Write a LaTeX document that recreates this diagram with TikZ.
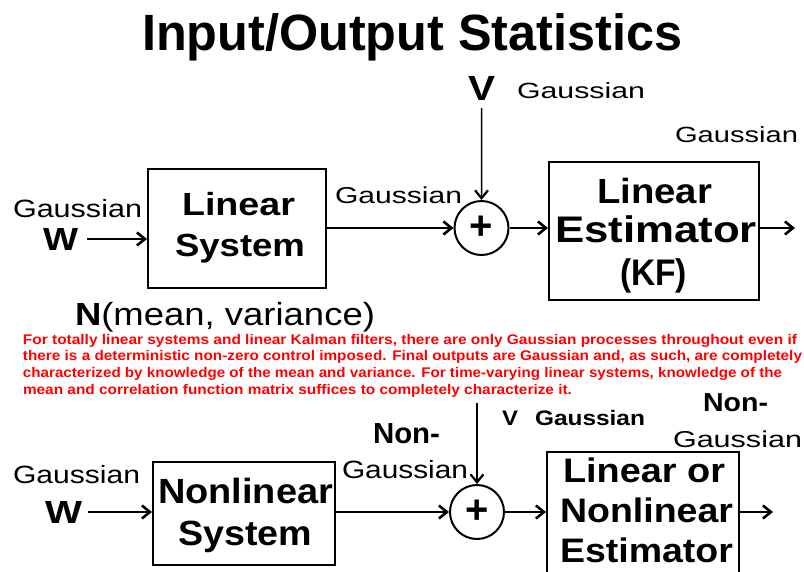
\documentclass[tikz,border=0pt]{standalone}
\usepackage{fontspec}
\setmainfont{Liberation Sans}
\usepackage{graphicx}
\usetikzlibrary{arrows.meta}
\definecolor{redtxt}{RGB}{255,0,0}
\newcommand\fsz[1]{\fontsize{#1}{#1}\selectfont}
\newcommand\fitw[2]{\resizebox{#1pt}{\height}{#2}}
\begin{document}
\begin{tikzpicture}[x=1pt,y=-1pt,
  txt/.style={anchor=base west, inner sep=0pt, outer sep=0pt},
  redline/.style={txt, text=redtxt},
  blockbox/.style={draw=black, line width=2pt, inner sep=0pt},
  sumnode/.style={draw=black, circle, line width=2pt, inner sep=0pt, minimum size=54pt},
  arr/.style={line width=2pt, -{Straight Barb[length=8pt,width=13pt,line width=2.6pt]}},
  thinarr/.style={line width=1.5pt, -{Straight Barb[length=8pt,width=13pt,line width=2.2pt]}}]
\clip (0,0) rectangle (804,571);
\fill[white] (0,0) rectangle (804,571);

% title
\node[txt] (title) at (142,50) {\fitw{540}{\fsz{51}\bfseries Input/Output Statistics}};

% ---------- top row ----------
\node[blockbox, minimum width=178pt, minimum height=119pt] (box1) at (237,228.5) {};
\node[blockbox, minimum width=210pt, minimum height=138pt] (box2) at (654,231) {};
\node[sumnode] (sum1) at (481.5,228) {\fsz{40}\bfseries +};

\node[txt] (gl1) at (13,217) {\fitw{129}{\fsz{25}Gaussian}};
\node[txt] (W1) at (43,250) {\fitw{35}{\fsz{32}\bfseries W}};
\node[txt] (b1a) at (182,215) {\fitw{113}{\fsz{32}\bfseries Linear}};
\node[txt] (b1b) at (175,256) {\fitw{130}{\fsz{32}\bfseries System}};
\node[txt] (gm1) at (335,203) {\fitw{127}{\fsz{23}Gaussian}};
\node[txt] (V1) at (468,100) {\fitw{27}{\fsz{35}\bfseries V}};
\node[txt] (gv1) at (517,98) {\fitw{128}{\fsz{22}Gaussian}};
\node[txt] (b2a) at (597,203) {\fitw{115}{\fsz{35}\bfseries Linear}};
\node[txt] (b2b) at (555,242) {\fitw{202}{\fsz{37}\bfseries Estimator}};
\node[txt] (b2c) at (620,285) {\fitw{67}{\fsz{37}\bfseries (KF)}};
\node[txt] (gr1) at (675,142) {\fitw{123}{\fsz{22}Gaussian}};
\node[txt] (nmv) at (75,325) {\fitw{300}{\fsz{32}\textbf{N}(mean, variance)}};

\coordinate (o1) at (795,228);
\draw[arr] (W1.east) ++(9,0) -- (W1.east -| box1.west);
\draw[arr] (sum1.west -| box1.east) -- (sum1.west);
\draw[thinarr] (V1.south) ++(0,8) -- (sum1.north);
\draw[arr] (sum1.east) -- (sum1.east -| box2.west);
\draw[arr] (o1 -| box2.east) -- (o1);

% ---------- red explanation ----------
\node[redline] (r1) at (23,344) {\fitw{774}{\fsz{14}\bfseries For totally linear systems and linear Kalman filters, there are only Gaussian processes throughout even if}};
\node[redline] (r2) at (23,360.7) {\fitw{779}{\fsz{14}\bfseries there is a deterministic non-zero control imposed. Final outputs are Gaussian and, as such, are completely}};
\node[redline] (r3) at (23,377.3) {\fitw{759}{\fsz{14}\bfseries characterized by knowledge of the mean and variance. For time-varying linear systems, knowledge of the}};
\node[redline] (r4) at (23,394) {\fitw{549}{\fsz{14}\bfseries mean and correlation function matrix suffices to completely characterize it.}};

% ---------- bottom row ----------
\node[blockbox, minimum width=182pt, minimum height=103pt] (box3) at (244,513.5) {};
\node[blockbox, minimum width=192pt, minimum height=168pt] (box4) at (643,536) {};
\node[sumnode] (sum2) at (477,512) {\fsz{40}\bfseries +};

\node[txt] (gl2) at (13,483) {\fitw{127}{\fsz{25}Gaussian}};
\node[txt] (W2) at (45,523) {\fitw{37}{\fsz{32}\bfseries W}};
\node[txt] (b3a) at (158,503) {\fitw{175}{\fsz{35}\bfseries Nonlinear}};
\node[txt] (b3b) at (178,545) {\fitw{134}{\fsz{35}\bfseries System}};
\node[txt] (nm2) at (373,443) {\fitw{67}{\fsz{29}\bfseries Non-}};
\node[txt] (gm2) at (342,478) {\fitw{126}{\fsz{25}Gaussian}};
\node[txt] (V2) at (502,425) {\fitw{16}{\fsz{21}\bfseries V}};
\node[txt] (gv2) at (535,425) {\fitw{110}{\fsz{21}\bfseries Gaussian}};
\node[txt] (b4a) at (563,482) {\fitw{162}{\fsz{34}\bfseries Linear or}};
\node[txt] (b4b) at (560,522) {\fitw{173}{\fsz{34}\bfseries Nonlinear}};
\node[txt] (b4c) at (560,562) {\fitw{173}{\fsz{34}\bfseries Estimator}};
\node[txt] (nr2) at (703,411) {\fitw{65}{\fsz{26}\bfseries Non-}};
\node[txt] (gr2) at (673,447) {\fitw{129}{\fsz{23}Gaussian}};

\coordinate (v2top) at (477,403);
\coordinate (o2) at (773,512);
\draw[arr] (W2.east) ++(6,0) -- (W2.east -| box3.west);
\draw[arr] (sum2.west -| box3.east) -- (sum2.west);
\draw[thinarr] (v2top) -- (sum2.north);
\draw[arr] (sum2.east) -- (sum2.east -| box4.west);
\draw[arr] (o2 -| box4.east) -- (o2);
\end{tikzpicture}
\end{document}
